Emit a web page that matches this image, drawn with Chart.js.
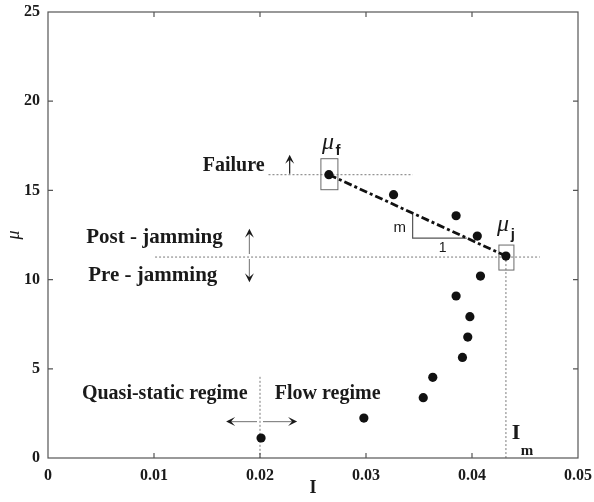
<!DOCTYPE html>
<html>
<head>
<meta charset="utf-8">
<script src="https://cdn.jsdelivr.net/npm/chart.js@4.4.0/dist/chart.umd.min.js"></script>
<style>
  html, body { margin: 0; padding: 0; background: #fff; }
  #wrap { width: 594px; height: 502px; }
</style>
</head>
<body>
<div id="wrap"><canvas id="muChart" width="594" height="502"></canvas></div>
<script>
// Inertial number I and friction mu for each run
const inertialNumber = [0.0201, 0.0298, 0.0354, 0.0363, 0.0391, 0.0396, 0.0398, 0.0385, 0.0408, 0.0432, 0.0405, 0.0385, 0.0326, 0.0265];
const frictionMu     = [1.12,   2.24,   3.38,   4.52,   5.64,   6.78,   7.92,   9.08,   10.20,  11.32,  12.44,  13.58,  14.76,  15.88];

// failure point and jamming point (ends of the fitted line)
const failurePoint = { x: 0.0265, y: 15.88 };
const jammingPoint = { x: 0.0432, y: 11.32 };

// boundary between quasi-static and flow regime
const regimeBoundary = 0.02;

const xTicks = [0, 0.01, 0.02, 0.03, 0.04, 0.05];
const yTicks = [0, 5, 10, 15, 20, 25];

const points = inertialNumber.map((v, i) => ({ x: v, y: frictionMu[i] }));

const serif = '"Liberation Serif", "Times New Roman", serif';
const sans = '"Liberation Sans", Arial, sans-serif';
const ink = '#1a1a1a';
const dotGrey = '#7a7a7a';

function arrow(ctx, x1, y1, x2, y2, stem) {
    const ang = Math.atan2(y2 - y1, x2 - x1);
    const len = 9, half = 4.5;
    ctx.save();
    ctx.strokeStyle = stem || ink;
    ctx.lineWidth = 1.2;
    ctx.beginPath();
    ctx.moveTo(x1, y1);
    ctx.lineTo(x2 - Math.cos(ang) * 4, y2 - Math.sin(ang) * 4);
    ctx.stroke();
    ctx.fillStyle = ink;
    ctx.beginPath();
    ctx.moveTo(x2, y2);
    ctx.lineTo(x2 - len * Math.cos(ang) + half * Math.sin(ang), y2 - len * Math.sin(ang) - half * Math.cos(ang));
    ctx.lineTo(x2 - 5 * Math.cos(ang), y2 - 5 * Math.sin(ang));
    ctx.lineTo(x2 - len * Math.cos(ang) - half * Math.sin(ang), y2 - len * Math.sin(ang) + half * Math.cos(ang));
    ctx.closePath();
    ctx.fill();
    ctx.restore();
}

function dotted(ctx, x1, y1, x2, y2) {
    ctx.save();
    ctx.strokeStyle = dotGrey;
    ctx.lineWidth = 1;
    ctx.setLineDash([2, 2]);
    ctx.beginPath();
    ctx.moveTo(x1, y1);
    ctx.lineTo(x2, y2);
    ctx.stroke();
    ctx.restore();
}

function label(ctx, text, x, y, font, align) {
    ctx.save();
    ctx.fillStyle = ink;
    ctx.font = font;
    ctx.textAlign = align || 'left';
    ctx.textBaseline = 'middle';
    ctx.fillText(text, x, y);
    ctx.restore();
}

// frame, inward ticks, reference lines and annotations
const annotations = {
    id: 'annotations',
    beforeDatasetsDraw(chart) {
        const { ctx, chartArea: a, scales: { x, y } } = chart;
        const px = v => x.getPixelForValue(v);
        const py = v => y.getPixelForValue(v);

        // dotted guide lines
        dotted(ctx, px(0.0208), py(failurePoint.y), px(0.0344), py(failurePoint.y));
        dotted(ctx, px(0.0101), py(jammingPoint.y) + 1, px(0.0464), py(jammingPoint.y) + 1);
        dotted(ctx, px(jammingPoint.x), py(jammingPoint.y), px(jammingPoint.x), a.bottom);
        dotted(ctx, px(regimeBoundary), py(4.55), px(regimeBoundary), a.bottom);

        // boxes around the failure and jamming points
        ctx.save();
        ctx.strokeStyle = '#6a6a6a';
        ctx.lineWidth = 1;
        const fx = px(failurePoint.x), fy = py(failurePoint.y);
        ctx.strokeRect(fx - 8, fy - 16, 17, 31);
        const jx = px(jammingPoint.x), jy = py(jammingPoint.y);
        ctx.strokeRect(jx - 7, jy - 11, 15, 25);
        ctx.restore();

        // slope triangle under the fitted line
        const slope = (jammingPoint.y - failurePoint.y) / (jammingPoint.x - failurePoint.x);
        const lineAt = v => failurePoint.y + slope * (v - failurePoint.x);
        const tx0 = 0.0344, tx1 = 0.0395;
        ctx.save();
        ctx.strokeStyle = '#555';
        ctx.lineWidth = 1.2;
        ctx.beginPath();
        ctx.moveTo(px(tx0), py(lineAt(tx0)));
        ctx.lineTo(px(tx0), py(lineAt(tx1)));
        ctx.lineTo(px(tx1), py(lineAt(tx1)));
        ctx.stroke();
        ctx.restore();
        label(ctx, 'm', px(tx0) - 13, py(lineAt(tx0)) + 15, '15px ' + sans, 'center');
        label(ctx, '1', px(tx0) + 30, py(lineAt(tx1)) + 10, '14px ' + sans, 'center');
    },
    afterDraw(chart) {
        const { ctx, chartArea: a, scales: { x, y } } = chart;
        const px = v => x.getPixelForValue(v);
        const py = v => y.getPixelForValue(v);

        // box frame
        ctx.save();
        ctx.strokeStyle = '#555';
        ctx.lineWidth = 1.2;
        ctx.strokeRect(a.left, a.top, a.right - a.left, a.bottom - a.top);
        ctx.beginPath();
        xTicks.slice(1, -1).forEach(v => {
            ctx.moveTo(px(v), a.bottom); ctx.lineTo(px(v), a.bottom - 5);
            ctx.moveTo(px(v), a.top); ctx.lineTo(px(v), a.top + 5);
        });
        yTicks.slice(1, -1).forEach(v => {
            ctx.moveTo(a.left, py(v)); ctx.lineTo(a.left + 5, py(v));
            ctx.moveTo(a.right, py(v)); ctx.lineTo(a.right - 5, py(v));
        });
        ctx.stroke();
        ctx.restore();

        // region labels
        const bold = 'bold 20px ' + serif;
        label(ctx, 'Failure', px(0.0146), py(16.4), bold);
        label(ctx, 'Post - jamming', px(0.0036), py(12.35), 'bold 21px ' + serif);
        label(ctx, 'Pre - jamming', px(0.0038), py(10.25), 'bold 21px ' + serif);
        label(ctx, 'Quasi-static regime', px(0.0032), py(3.6), bold);
        label(ctx, 'Flow regime', px(0.0214), py(3.6), bold);

        // arrows
        arrow(ctx, px(0.0228), py(failurePoint.y) - 1, px(0.0228), py(17.0));
        arrow(ctx, px(0.0190), py(jammingPoint.y) - 2, px(0.0190), py(12.85), '#888');
        arrow(ctx, px(0.0190), py(jammingPoint.y) + 3, px(0.0190), py(9.85), '#888');
        arrow(ctx, px(regimeBoundary) - 3, py(2.04), px(0.0168), py(2.04), '#888');
        arrow(ctx, px(regimeBoundary) + 3, py(2.04), px(0.0235), py(2.04), '#888');

        // point symbols
        label(ctx, 'μ', px(failurePoint.x) - 1, py(failurePoint.y) - 32, 'italic 24px ' + serif, 'center');
        label(ctx, 'f', px(failurePoint.x) + 9, py(failurePoint.y) - 24, 'bold 15px ' + sans, 'center');
        label(ctx, 'μ', px(jammingPoint.x) - 3, py(jammingPoint.y) - 31, 'italic 24px ' + serif, 'center');
        label(ctx, 'j', px(jammingPoint.x) + 7, py(jammingPoint.y) - 21, 'bold 15px ' + sans, 'center');
        label(ctx, 'I', px(jammingPoint.x) + 10, py(1.4), 'bold 22px ' + serif, 'center');
        label(ctx, 'm', px(jammingPoint.x) + 21, py(0.4), 'bold 15px ' + serif, 'center');

        // axis titles
        label(ctx, 'I', (a.left + a.right) / 2, a.bottom + 30, 'bold 18px ' + serif, 'center');
        ctx.save();
        ctx.translate(14, py(12.5));
        ctx.rotate(-Math.PI / 2);
        label(ctx, 'μ', 0, 0, 'italic 18px ' + serif, 'center');
        ctx.restore();
    }
};

const ctx = document.getElementById('muChart').getContext('2d');
const muChart = new Chart(ctx, {
    type: 'scatter',
    data: {
        datasets: [
            {
                label: 'fit',
                data: [failurePoint, jammingPoint],
                showLine: true,
                borderColor: '#111',
                borderWidth: 2.8,
                borderDash: [8, 3, 3, 3],
                pointRadius: 0
            },
            {
                label: 'runs',
                data: points,
                backgroundColor: '#111',
                borderColor: '#111',
                pointRadius: 4.6,
                pointBorderWidth: 0
            }
        ]
    },
    options: {
        responsive: false,
        animation: false,
        layout: { padding: { top: 12, right: 16, left: 0, bottom: 0 } },
        plugins: { legend: { display: false }, tooltip: { enabled: false } },
        scales: {
            x: {
                type: 'linear',
                min: 0,
                max: 0.05,
                afterFit: s => {
                    s.height = 44;
                    s.paddingLeft = 0;
                    s.paddingRight = 0;
                },
                afterBuildTicks: s => { s.ticks = xTicks.map(v => ({ value: v })); },
                grid: { display: false, drawTicks: false },
                border: { display: false },
                ticks: {
                    padding: 8,
                    color: ink,
                    font: { family: serif, size: 16, weight: 'bold' },
                    callback: v => String(v)
                }
            },
            y: {
                type: 'linear',
                min: 0,
                max: 25,
                afterFit: s => {
                    s.width = 48;
                    s.paddingTop = 0;
                    s.paddingBottom = 0;
                },
                afterBuildTicks: s => { s.ticks = yTicks.map(v => ({ value: v })); },
                grid: { display: false, drawTicks: false },
                border: { display: false },
                ticks: {
                    padding: 8,
                    color: ink,
                    font: { family: serif, size: 16, weight: 'bold' },
                    callback: v => String(v)
                }
            }
        }
    },
    plugins: [annotations]
});
</script>
</body>
</html>
